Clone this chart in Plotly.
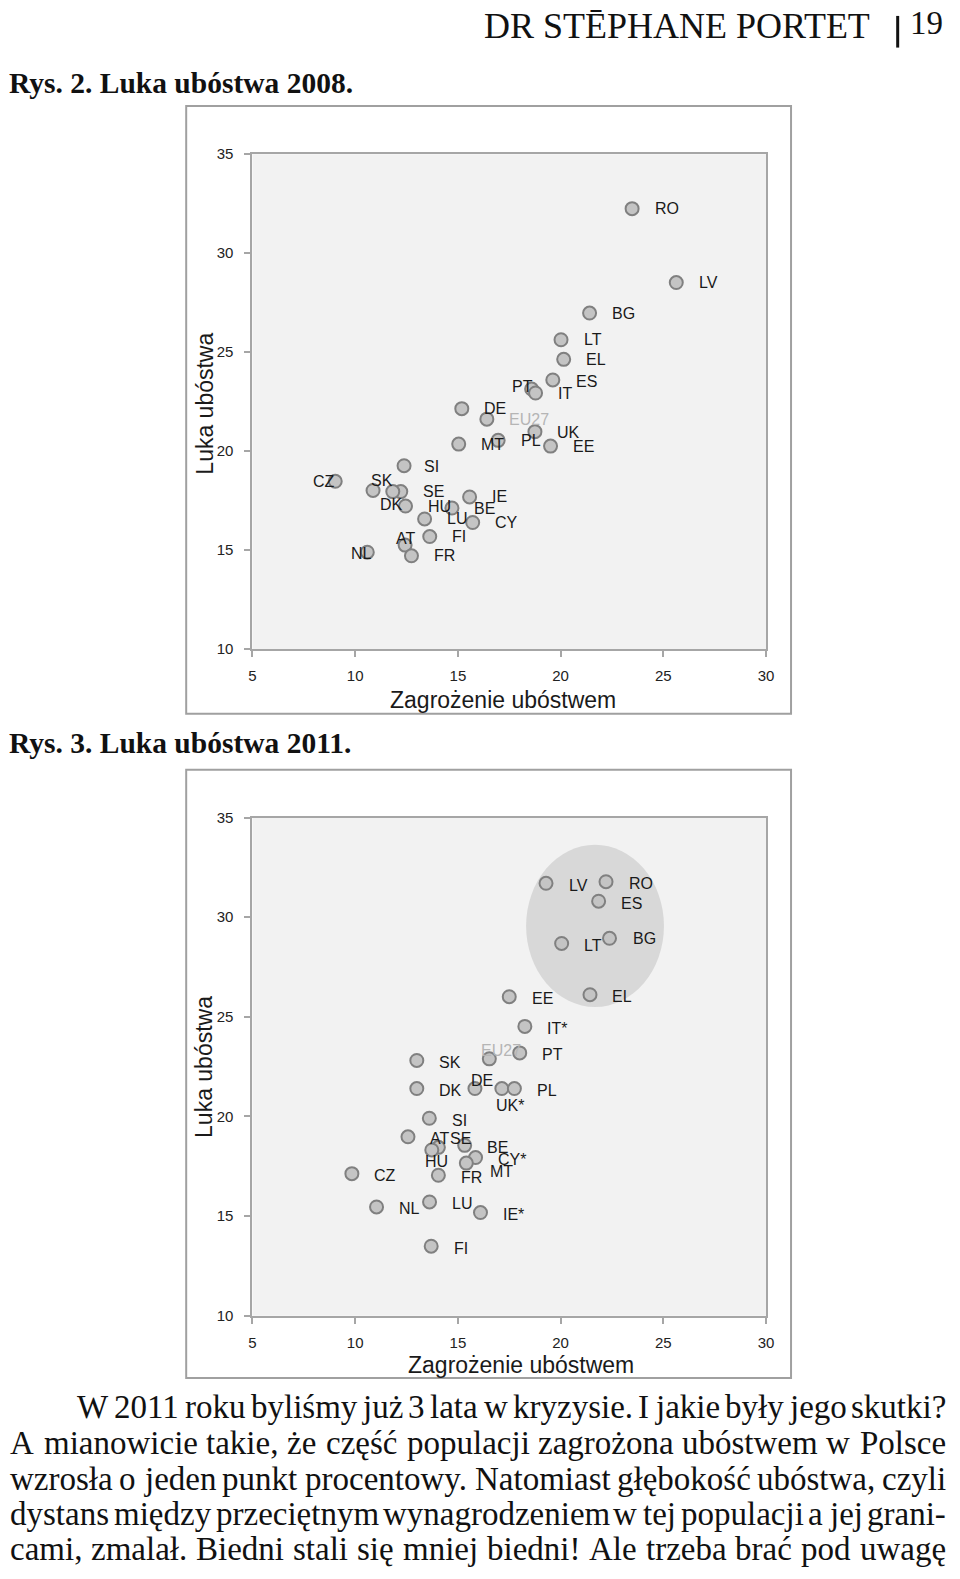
import plotly.graph_objects as go

# ---------------- data ----------------
countries_2008 = ["RO", "LV", "BG", "LT", "EL", "ES", "PT", "IT", "DE", "EU27", "MT", "PL", "UK", "EE",
                  "SI", "CZ", "SK", "SE", "DK", "HU", "IE", "BE", "LU", "CY", "AT", "FI", "NL", "FR"]
risk_2008 = [23.48, 25.63, 21.41, 20.02, 20.15, 19.62, 18.59, 18.78, 15.19, 16.41, 15.04, 16.96, 18.75, 19.51,
             12.38, 9.03, 10.87, 12.22, 11.83, 12.45, 15.57, 14.71, 13.38, 15.72, 12.43, 13.63, 10.59, 12.74]
gap_2008 = [32.25, 28.52, 26.98, 25.63, 24.64, 23.60, 23.14, 22.94, 22.15, 21.62, 20.36, 20.55, 20.99, 20.26,
            19.27, 18.48, 18.02, 17.96, 17.96, 17.23, 17.69, 17.13, 16.58, 16.40, 15.26, 15.69, 14.90, 14.72]

countries_2011 = ["LV", "RO", "ES", "LT", "BG", "EE", "EL", "IT*", "PT", "EU27", "SK", "DK", "DE", "UK*",
                  "PL", "SI", "AT", "SE", "HU", "BE", "CY*", "MT", "FR", "CZ", "NL", "LU", "IE*", "FI"]
risk_2011 = [19.29, 22.21, 21.85, 20.05, 22.38, 17.50, 21.43, 18.26, 18.01, 16.53, 13.00, 13.00, 15.83, 17.14,
             17.75, 13.61, 12.57, 14.05, 13.73, 15.33, 15.86, 15.41, 14.05, 9.84, 11.04, 13.62, 16.10, 13.70]
gap_2011 = [31.70, 31.78, 30.80, 28.68, 28.94, 26.01, 26.11, 24.52, 23.19, 22.89, 22.81, 21.40, 21.40, 21.40,
            21.40, 19.91, 18.98, 18.45, 18.32, 18.55, 17.94, 17.66, 17.05, 17.13, 15.46, 15.71, 15.18, 13.49]

x_ticks = [5, 10, 15, 20, 25, 30]
y_ticks = [10, 15, 20, 25, 30, 35]

x_title = "Zagrożenie ubóstwem"
y_title = "Luka ubóstwa"
header = "DR STĒPHANE PORTET"
page_no = "19"
title_2008 = "Rys. 2. Luka ubóstwa 2008."
title_2011 = "Rys. 3. Luka ubóstwa 2011."
body_lines = [
    "W 2011 roku byliśmy już 3 lata w kryzysie. I jakie były jego skutki?",
    "A mianowicie takie, że część populacji zagrożona ubóstwem w Polsce",
    "wzrosła o jeden punkt procentowy. Natomiast głębokość ubóstwa, czyli",
    "dystans między przeciętnym wynagrodzeniem w tej populacji a jej grani-",
    "cami, zmalał. Biedni stali się mniej biedni! Ale trzeba brać pod uwagę",
]

# label offsets in pixels (dx right, dy down) - layout only
default_off_2008 = (20.5, 0)
label_off_2008 = {"PT": (-22, -3), "CZ": (-24.5, 0), "SK": (-4, -10), "DK": (-15, 13),
                  "AT": (-11, -7), "NL": (-18.5, 1.5), "SI": (18, 1), "ES": (21.5, 1.5), "UK": (20, 1)}
default_off_2011 = (20.5, 2)
label_off_2011 = {"EU27": (-10, -8), "DE": (-6, -8), "UK*": (-8, 17), "SE": (10, -9),
                  "HU": (-9, 11.7), "MT": (22, 8.3), "BG": (21, 0.5)}

W, H = 960, 1579


def PX(x):
    return x / W


def PY(y):
    return 1 - y / H


fig = go.Figure()

marker = dict(size=13, color="#c4c4c4", line=dict(color="#808080", width=2))
fig.add_trace(go.Scatter(x=risk_2008, y=gap_2008, mode="markers", marker=marker,
                         xaxis="x", yaxis="y", showlegend=False, cliponaxis=False, hoverinfo="skip"))
fig.add_trace(go.Scatter(x=risk_2011, y=gap_2011, mode="markers", marker=marker,
                         xaxis="x2", yaxis="y2", showlegend=False, cliponaxis=False, hoverinfo="skip"))

axis_common = dict(showgrid=False, zeroline=False, showline=True, linecolor="#a6a6a6", linewidth=2,
                   mirror=True, ticks="outside", ticklen=6, tickcolor="#a6a6a6", tickwidth=2,
                   tickfont=dict(size=15, color="#222222", family="Liberation Sans, Arial"),
                   fixedrange=True)

xdom = [251.6 / W, 771.7 / W]
fig.update_layout(
    autosize=True, margin=dict(l=0, r=0, t=0, b=0),
    paper_bgcolor="white", plot_bgcolor="#f2f2f2",
    font=dict(family="Liberation Sans, Arial", color="#1a1a1a"),
    xaxis=dict(domain=xdom, range=[5, 30], tickvals=x_ticks, anchor="y", ticklabelstandoff=6, **axis_common),
    yaxis=dict(domain=[PY(647.2), PY(146.8)], range=[10, 35], tickvals=y_ticks, anchor="x",
               ticklabelstandoff=8, **axis_common),
    xaxis2=dict(domain=xdom, range=[5, 30], tickvals=x_ticks, anchor="y2", ticklabelstandoff=6, **axis_common),
    yaxis2=dict(domain=[PY(1321), PY(817.3)], range=[10, 35], tickvals=y_ticks, anchor="x2",
                ticklabelstandoff=8, **axis_common),
)

shapes = []
# outer frames of the charts
for (x0, y0, x1, y1) in [(184.5, 98, 797, 712.5), (184.5, 769, 797, 1384)]:
    shapes.append(dict(type="rect", xref="paper", yref="paper", x0=PX(x0), x1=PX(x1), y0=PY(y1), y1=PY(y0),
                       line=dict(color="#a0a0a0", width=2), fillcolor="rgba(0,0,0,0)", layer="above"))
# highlight ellipse in 2011 chart
shapes.append(dict(type="circle", xref="x2", yref="y2", x0=18.32, x1=25.03, y0=25.49, y1=33.63,
                   fillcolor="#d8d8d8", line=dict(width=0), layer="below"))
# header bar
shapes.append(dict(type="line", xref="paper", yref="paper", x0=PX(905), x1=PX(905), y0=PY(39), y1=PY(7),
                   line=dict(color="#111111", width=3)))
fig.update_layout(shapes=shapes)

ann = []


def add_labels(names, xs, ys, xr, yr, default, offs):
    for c, xv, yv in zip(names, xs, ys):
        dx, dy = offs.get(c, default)
        col = "#b5b5b5" if c == "EU27" else "#1a1a1a"
        ann.append(dict(x=xv, y=yv, xref=xr, yref=yr, text=c, showarrow=False, xanchor="left",
                        yanchor="middle", xshift=dx, yshift=-dy, font=dict(size=16, color=col)))


add_labels(countries_2008, risk_2008, gap_2008, "x", "y", default_off_2008, label_off_2008)
add_labels(countries_2011, risk_2011, gap_2011, "x2", "y2", default_off_2011, label_off_2011)

# axis titles
for (cx, cy, txt, ang) in [(505, 699, x_title, 0), (203.5, 399, y_title, -90),
                           (524, 1370.5, x_title, 0), (203, 1069, y_title, -90)]:
    ann.append(dict(x=PX(cx), y=PY(cy), xref="paper", yref="paper", text=txt, showarrow=False,
                    xanchor="center", yanchor="middle", textangle=ang,
                    font=dict(size=23, color="#1a1a1a", family="Liberation Sans, Arial")))

serif = "Liberation Serif, Times New Roman, serif"
ann.append(dict(x=PX(879), y=PY(17), xref="paper", yref="paper", text=header, showarrow=False,
                xanchor="right", yanchor="middle", font=dict(size=36, color="#111111", family=serif)))
ann.append(dict(x=PX(915), y=PY(14), xref="paper", yref="paper", text=page_no, showarrow=False,
                xanchor="left", yanchor="middle", font=dict(size=33, color="#111111", family=serif)))
for (ty, txt) in [(74.5, title_2008), (742, title_2011)]:
    ann.append(dict(x=PX(3), y=PY(ty), xref="paper", yref="paper", text="<b>" + txt + "</b>",
                    showarrow=False, xanchor="left", yanchor="middle",
                    font=dict(size=29.5, color="#111111", family=serif)))

# justified body text using Times metrics (Liberation Serif is metric-compatible)
TNR = {' ': 250, 'a': 444, 'b': 500, 'c': 444, 'd': 500, 'e': 444, 'f': 333, 'g': 500, 'h': 500, 'i': 278,
       'j': 278, 'k': 500, 'l': 278, 'm': 778, 'n': 500, 'o': 500, 'p': 500, 'q': 500, 'r': 333, 's': 389,
       't': 278, 'u': 500, 'v': 500, 'w': 722, 'x': 500, 'y': 500, 'z': 444, 'A': 722, 'B': 667, 'C': 667,
       'D': 722, 'E': 611, 'F': 556, 'G': 722, 'H': 722, 'I': 333, 'J': 389, 'K': 722, 'L': 611, 'M': 889,
       'N': 722, 'O': 722, 'P': 556, 'Q': 722, 'R': 667, 'S': 556, 'T': 611, 'U': 722, 'V': 722, 'W': 944,
       'X': 722, 'Y': 722, 'Z': 611, '.': 250, ',': 250, '?': 444, '!': 333, '-': 333}
BASE = {'ą': 'a', 'ć': 'c', 'ę': 'e', 'ł': 'l', 'ń': 'n', 'ó': 'o', 'ś': 's', 'ź': 'z', 'ż': 'z'}


def text_width(s, size):
    total = 0
    for ch in s:
        if ch.isdigit():
            total += 500
        else:
            total += TNR.get(BASE.get(ch, ch), 500)
    return total / 1000 * size


body_size = 33
line_y = [1413, 1449.5, 1486, 1521.5, 1557]
line_x0 = [72.5, 5, 5, 5, 5]
line_x1 = 952
for txt, ly, lx0 in zip(body_lines, line_y, line_x0):
    words = txt.split(" ")
    widths = [text_width(w, body_size) for w in words]
    g = (line_x1 - lx0 - sum(widths)) / (len(words) - 1)
    xcur = lx0
    for w, wd in zip(words, widths):
        ann.append(dict(x=PX(xcur - 1), y=PY(ly), xref="paper", yref="paper", text=w, showarrow=False,
                        xanchor="left", yanchor="middle",
                        font=dict(size=body_size, color="#111111", family=serif)))
        xcur += wd + g

fig.update_layout(annotations=ann)
# the graph div is pinned to the page's top-left corner at exactly 960x1579 (avoids body margin offsets)
fig.write_html("out.html", config={"displayModeBar": False},
               default_width="960px", default_height="1579px; position:absolute; left:0; top:0")
